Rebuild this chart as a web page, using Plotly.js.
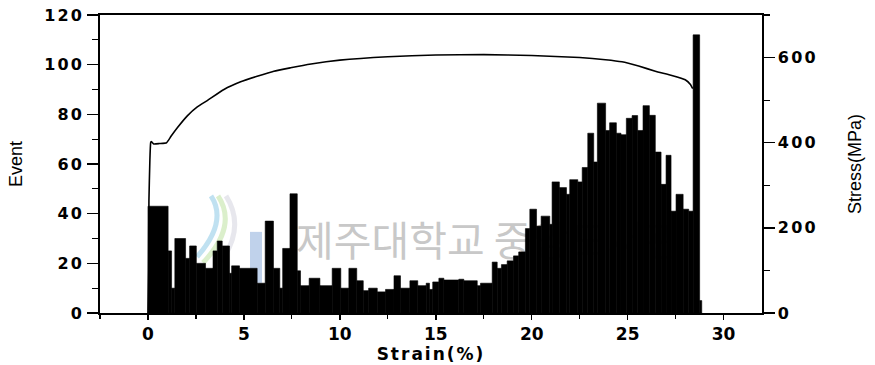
<!DOCTYPE html>
<html>
<head>
<meta charset="utf-8">
<script src="https://cdn.plot.ly/plotly-3.0.1.min.js"></script>
<style>
html,body{margin:0;padding:0;background:#fff;}
#chart{width:875px;height:365px;}
#chart .ytick text, #chart .y2tick text{letter-spacing:2.2px;}
#chart .xtitle{letter-spacing:2px;}
</style>
</head>
<body>
<div id="chart"></div>
<script>
// ---- data ----
// acoustic-emission event histogram: left edge of each strain bin (%) and event count
const binStart = [0.00,1.05,1.23,1.40,1.96,2.17,2.52,3.00,3.39,3.61,3.87,4.25,4.36,4.77,5.69,6.11,6.54,6.87,7.02,7.40,
  7.78,7.95,8.40,8.96,9.60,10.05,10.47,10.88,11.22,11.50,11.95,12.38,12.82,13.16,13.65,14.06,14.50,14.67,14.84,15.16,
  15.42,16.20,16.46,17.16,17.33,17.94,18.20,18.42,18.72,19.05,19.32,19.67,19.90,20.25,20.49,20.94,21.06,21.44,21.81,21.98,
  22.40,22.63,22.92,23.23,23.42,23.85,24.06,24.41,24.65,24.93,25.23,25.52,25.80,26.13,26.44,26.74,27.00,27.26,27.52,27.89,
  28.18,28.41,28.75];
const binEnd = 28.86;
const events = [43,25,10,30,22,27,20,18,25,29,27,16,19,18,12,37,18,10,26,48,
  17,11,14,11,18,10,18,13,9,10,8.5,9.5,15,10,13,11,12,9.5,12.5,14,
  13.3,13.6,13,11,12,20.5,18,19.5,21,23,24.6,34,41.8,35,39,35.7,52.8,50.5,47.8,53.7,
  52.8,58.6,72.4,60.8,84.5,73.5,76.6,72.4,71.8,78.4,79.5,73.5,83.5,79.6,64.8,51.8,63.5,41,47.8,41.8,
  41,112,5];
// stress-strain curve
const strain = [0,0.03,0.05,0.10,0.14,0.17,0.30,0.60,0.97,1.20,1.53,2.05,2.57,3.09,3.96,4.83,5.69,6.56,7.43,8.5,
  10,12.5,15,17.5,20,22.5,23.84,24.7,25.57,26.44,27.3,28.0,28.27,28.39];
const stress = [0,100,264,360,400,403,397,398,400,415,435,463,484,499,525,543,556,568,576,585,
  594,602,606,607,605,600,595,590,580,568,558,548,537,527];
// tick labels
const xTicks = [0,5,10,15,20,25,30];
const eventTicks = [0,20,40,60,80,100,120];
const stressTicks = [0,200,400,600];
const watermark = '제주대학교 중앙도서관';

// ---- build ----
const widths = binStart.map((s,i)=> (i+1<binStart.length ? binStart[i+1] : binEnd) - s);

// pixel -> paper helpers for decorative watermark pieces
const L=100, R=762, T=14.7, B=313.3;
const PX = p => (p-L)/(R-L);
const PY = p => (B-p)/(B-T);

const tickFontY = {family:'DejaVu Sans, Verdana, sans-serif', size:16, color:'#000', weight:'bold'};
const tickFontX = {family:'DejaVu Sans, Verdana, sans-serif', size:17, color:'#000', weight:'bold'};
const titleFont = {family:'Liberation Sans, Arial, sans-serif', size:18, color:'#000'};

const traces = [
  { // watermark text on hidden base subplot (drawn beneath the bars)
    type:'scatter', mode:'text', xaxis:'x2', yaxis:'y3',
    x:[PX(296)], y:[PY(246)], text:[watermark], textposition:'middle right',
    textfont:{family:'Noto Sans CJK KR', size:41, color:'#c8c8c8'},
    hoverinfo:'skip', showlegend:false, cliponaxis:false
  },
  {
    type:'bar', x:binStart, y:events, width:widths, offset:0,
    xaxis:'x', yaxis:'y',
    marker:{color:'#000', line:{color:'#000', width:0.6}},
    showlegend:false
  },
  {
    type:'scatter', mode:'lines', x:strain, y:stress, xaxis:'x', yaxis:'y2',
    line:{color:'#000', width:1.6, shape:'spline', smoothing:0.4},
    showlegend:false
  }
];

function arc(x0,y0,xc,yc,x1,y1){
  return `M ${PX(x0)},${PY(y0)} Q ${PX(xc)},${PY(yc)} ${PX(x1)},${PY(y1)}`;
}

const layout = {
  width:875, height:365,
  margin:{l:L, r:875-R, t:T, b:365-B, pad:0},
  paper_bgcolor:'#fff', plot_bgcolor:'#fff',
  showlegend:false, hovermode:false, bargap:0,
  xaxis2:{domain:[0,1], range:[0,1], visible:false, fixedrange:true},
  yaxis3:{domain:[0,1], range:[0,1], visible:false, fixedrange:true},
  xaxis:{
    overlaying:'x2', range:[-2.5,32], tickvals:xTicks, ticktext:xTicks.map(String),
    ticks:'outside', ticklen:5, tickwidth:1.5, tickcolor:'#000',
    minor:{dtick:2.5, tick0:0, ticks:'outside', ticklen:4, tickwidth:1.2, tickcolor:'#000', showgrid:false},
    showline:true, linewidth:1.6, linecolor:'#000', mirror:true,
    showgrid:false, zeroline:false, tickfont:tickFontX,
    title:{text:'Strain(%)', font:{family:'DejaVu Sans, Verdana, sans-serif', size:17, color:'#000', weight:'bold'}, standoff:1},
    automargin:false
  },
  yaxis:{
    overlaying:'y3', range:[0,120], tickvals:eventTicks, ticktext:eventTicks.map(String),
    ticks:'outside', ticklen:11, tickwidth:1.5, tickcolor:'#000',
    minor:{dtick:10, tick0:0, ticks:'outside', ticklen:6, tickwidth:1.2, tickcolor:'#000', showgrid:false},
    showline:true, linewidth:1.6, linecolor:'#000',
    showgrid:false, zeroline:false, tickfont:tickFontY,
    title:{text:'Event', font:titleFont, standoff:23}, automargin:false
  },
  yaxis2:{
    overlaying:'y3', side:'right', anchor:'x', range:[0,700], tickvals:stressTicks, ticktext:stressTicks.map(String),
    ticks:'outside', ticklen:11, tickwidth:1.5, tickcolor:'#000',
    minor:{dtick:100, tick0:0, ticks:'outside', ticklen:6, tickwidth:1.2, tickcolor:'#000', showgrid:false},
    showline:true, linewidth:1.6, linecolor:'#000',
    showgrid:false, zeroline:false, tickfont:tickFontY,
    title:{text:'Stress(MPa)', font:titleFont, standoff:38}, automargin:false
  },
  shapes:[
    {type:'rect', xref:'paper', yref:'paper', x0:PX(250), x1:PX(262), y0:PY(283), y1:PY(232),
     fillcolor:'rgba(150,180,222,0.6)', line:{width:0}, layer:'below'},
    {type:'path', xref:'paper', yref:'paper', layer:'below', path:arc(211,196,228,222,197,257),
     line:{color:'rgba(140,200,230,0.55)', width:5}},
    {type:'path', xref:'paper', yref:'paper', layer:'below', path:arc(218,196,238,226,203,263),
     line:{color:'rgba(190,225,160,0.55)', width:5}},
    {type:'path', xref:'paper', yref:'paper', layer:'below', path:arc(226,196,246,228,220,263),
     line:{color:'rgba(215,215,225,0.6)', width:5}}
  ]
};

Plotly.newPlot('chart', traces, layout, {staticPlot:true, displayModeBar:false});
</script>
</body>
</html>
